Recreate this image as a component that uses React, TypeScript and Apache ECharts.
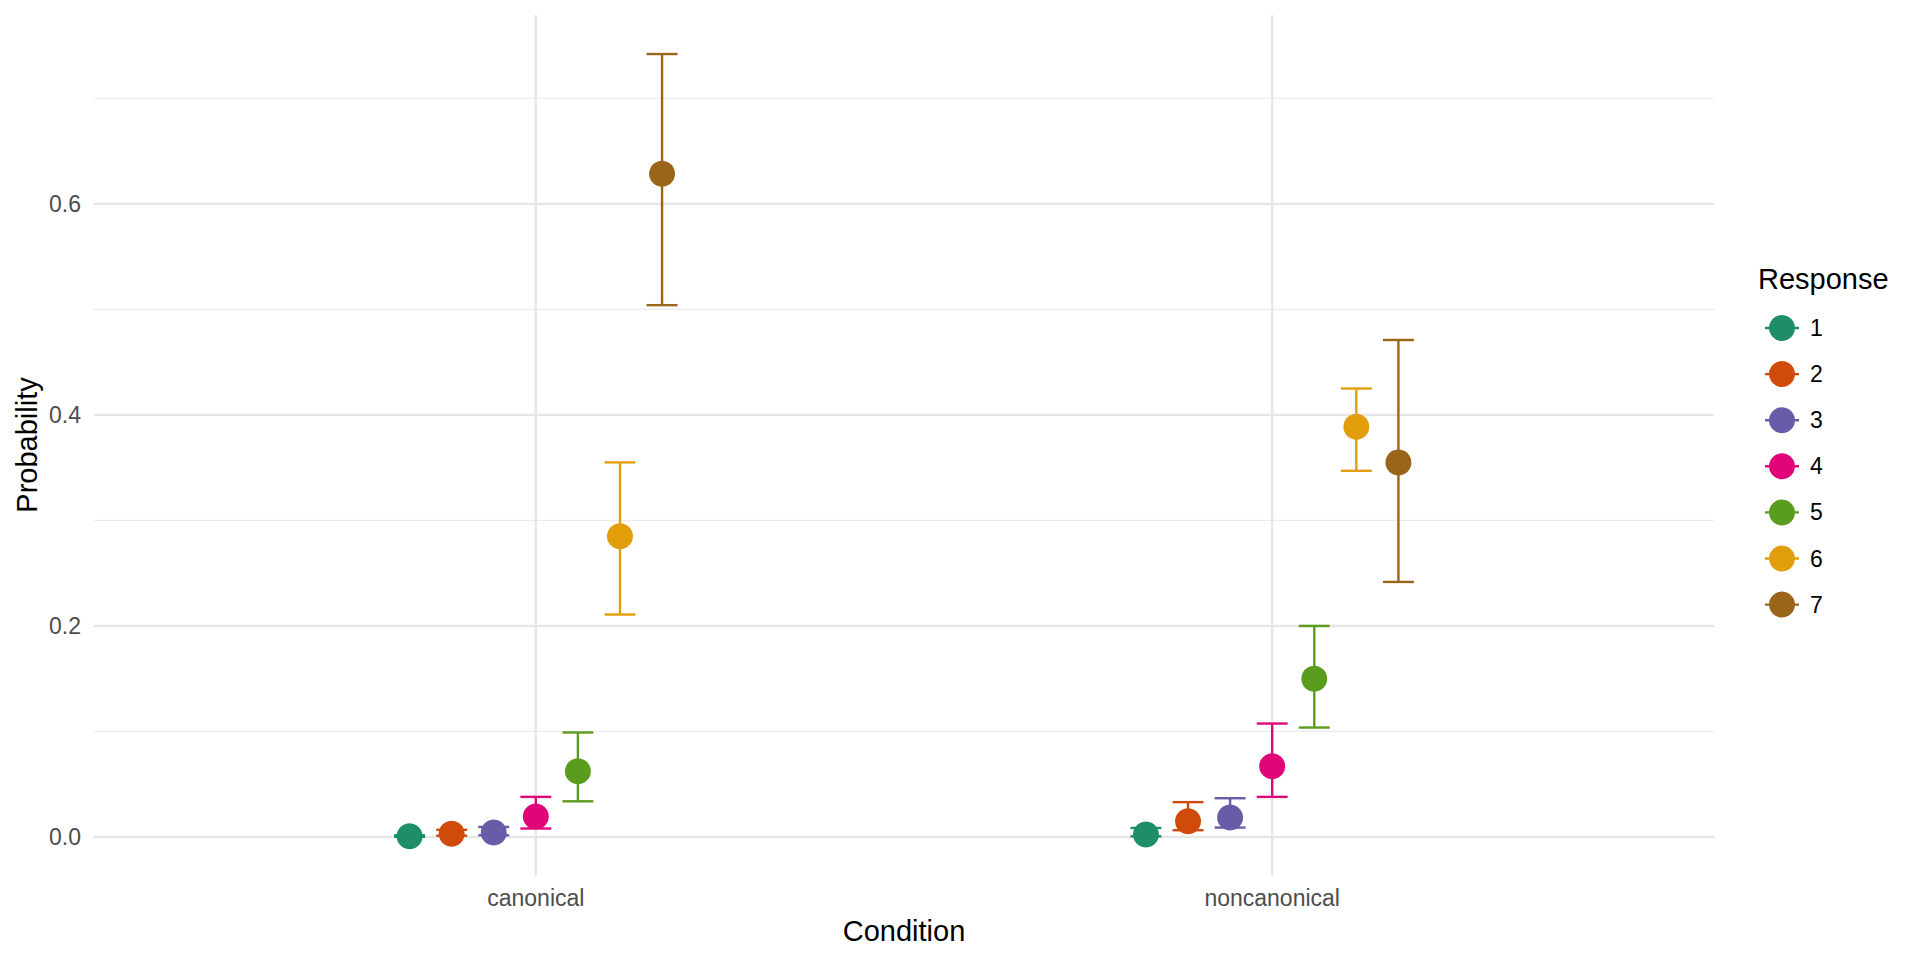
import React, { useEffect, useRef } from "react";
import * as echarts from "echarts";

const conditions = ["canonical", "noncanonical"];
const responses = ["1", "2", "3", "4", "5", "6", "7"];
const colors = ["#1E8E68", "#D04A0A", "#665CA8", "#E0067A", "#5A9C1E", "#E29E0A", "#9A6419"];

const canonicalMean = [0.0006, 0.003, 0.0042, 0.0195, 0.0623, 0.285, 0.6285];
const canonicalLow = [0.0001, 0.0012, 0.0016, 0.008, 0.0338, 0.2108, 0.504];
const canonicalHigh = [0.0016, 0.0068, 0.0095, 0.038, 0.099, 0.355, 0.742];
const noncanonicalMean = [0.0023, 0.0149, 0.0184, 0.067, 0.15, 0.3887, 0.355];
const noncanonicalLow = [0.0006, 0.0064, 0.0089, 0.038, 0.1037, 0.347, 0.2417];
const noncanonicalHigh = [0.0085, 0.033, 0.0367, 0.1075, 0.2, 0.425, 0.471];

const yMajorBreaks = [0, 0.2, 0.4, 0.6];
const yMinorBreaks = [0.1, 0.3, 0.5, 0.7];
const xBreaks = [1, 2];

const FONT = "Liberation Sans, Arial, Helvetica, sans-serif";
const DODGE = 0.4;
const CAP_HALF = 0.021;

export default function App() {
  const ref = useRef<HTMLDivElement>(null);

  useEffect(() => {
    if (!ref.current) return;
    const chart = echarts.init(ref.current, null, { renderer: "svg" });

    const n = responses.length;
    const offset = (r: number) => (r - (n - 1) / 2) * (DODGE / n);

    const gridData = [
      ...yMajorBreaks.map((v) => ["h", v, 2.4, "#E6E6E6"]),
      ...yMinorBreaks.map((v) => ["h", v, 1.2, "#EBEBEB"]),
      ...xBreaks.map((v) => ["v", v, 2.4, "#E6E6E6"]),
    ];

    const gridSeries: any = {
      type: "custom",
      silent: true,
      z: 0,
      data: gridData.map((d, i) => [i]),
      renderItem: (params: any, api: any) => {
        const d = gridData[params.dataIndex];
        const cs = params.coordSys;
        if (d[0] === "h") {
          const y = api.coord([1, d[1]])[1];
          return {
            type: "line",
            shape: { x1: cs.x, y1: y, x2: cs.x + cs.width, y2: y },
            style: { stroke: d[3], lineWidth: d[2] },
          };
        }
        const x = api.coord([d[1], 0])[0];
        return {
          type: "line",
          shape: { x1: x, y1: cs.y, x2: x, y2: cs.y + cs.height },
          style: { stroke: d[3], lineWidth: d[2] },
        };
      },
    };

    const errSeries: any[] = responses.map((name, r) => {
      const data = [
        [1 + offset(r), canonicalLow[r], canonicalHigh[r]],
        [2 + offset(r), noncanonicalLow[r], noncanonicalHigh[r]],
      ];
      return {
        type: "custom",
        name,
        z: 2,
        silent: true,
        data,
        encode: { x: 0, y: [1, 2] },
        renderItem: (params: any, api: any) => {
          const x = api.value(0);
          const lo = api.coord([x, api.value(1)]);
          const hi = api.coord([x, api.value(2)]);
          const l = api.coord([x - CAP_HALF, api.value(1)])[0];
          const rr = api.coord([x + CAP_HALF, api.value(1)])[0];
          const style = { stroke: colors[r], lineWidth: 2.4, fill: "none" };
          return {
            type: "group",
            children: [
              { type: "line", shape: { x1: lo[0], y1: lo[1], x2: hi[0], y2: hi[1] }, style },
              { type: "line", shape: { x1: l, y1: lo[1], x2: rr, y2: lo[1] }, style },
              { type: "line", shape: { x1: l, y1: hi[1], x2: rr, y2: hi[1] }, style },
            ],
          };
        },
      };
    });

    const pointSeries: any[] = responses.map((name, r) => ({
      type: "scatter",
      name,
      z: 3,
      symbol: "circle",
      symbolSize: 26,
      itemStyle: { color: colors[r], opacity: 1 },
      data: [
        [1 + offset(r), canonicalMean[r]],
        [2 + offset(r), noncanonicalMean[r]],
      ],
    }));

    const legendGraphics: any[] = [
      {
        type: "text",
        left: 1758,
        top: 279 - 15,
        style: { text: "Response", font: `29px ${FONT}`, fill: "#000000" },
      },
    ];
    responses.forEach((name, r) => {
      const cy = 328 + r * 46.1;
      legendGraphics.push({
        type: "line",
        shape: { x1: 1765, y1: cy, x2: 1799, y2: cy },
        style: { stroke: colors[r], lineWidth: 2.4 },
      });
      legendGraphics.push({
        type: "circle",
        shape: { cx: 1782, cy, r: 13 },
        style: { fill: colors[r] },
      });
      legendGraphics.push({
        type: "text",
        x: 1810,
        y: cy,
        style: {
          text: name,
          font: `23px ${FONT}`,
          fill: "#000000",
          verticalAlign: "middle",
          align: "left",
        },
      });
    });

    const option: any = {
      animation: false,
      backgroundColor: "#ffffff",
      grid: { left: 94, top: 15, right: 206, bottom: 84, containLabel: false },
      xAxis: {
        type: "value",
        min: 0.4,
        max: 2.6,
        axisLine: { show: false },
        axisTick: { show: false },
        splitLine: { show: false },
        axisLabel: {
          customValues: xBreaks,
          formatter: (v: number) => conditions[Math.round(v) - 1] ?? "",
          color: "#4D4D4D",
          fontSize: 23,
          fontFamily: FONT,
          margin: 10,
        },
      },
      yAxis: {
        type: "value",
        min: -0.037,
        max: 0.779,
        axisLine: { show: false },
        axisTick: { show: false },
        splitLine: { show: false },
        axisLabel: {
          customValues: yMajorBreaks,
          formatter: (v: number) => v.toFixed(1),
          color: "#4D4D4D",
          fontSize: 23,
          fontFamily: FONT,
          margin: 13,
        },
      },
      graphic: [
        {
          type: "text",
          x: 904,
          y: 931,
          style: {
            text: "Condition",
            font: `29px ${FONT}`,
            fill: "#000000",
            align: "center",
            verticalAlign: "middle",
          },
        },
        {
          type: "text",
          x: 27,
          y: 445,
          rotation: Math.PI / 2,
          style: {
            text: "Probability",
            font: `29px ${FONT}`,
            fill: "#000000",
            align: "center",
            verticalAlign: "middle",
          },
        },
        ...legendGraphics,
      ],
      series: [gridSeries, ...errSeries, ...pointSeries],
    };

    chart.setOption(option);
    return () => chart.dispose();
  }, []);

  return (
    <div
      ref={ref}
      style={{ position: "fixed", left: 0, top: 0, width: 1920, height: 960, background: "#fff" }}
    />
  );
}
